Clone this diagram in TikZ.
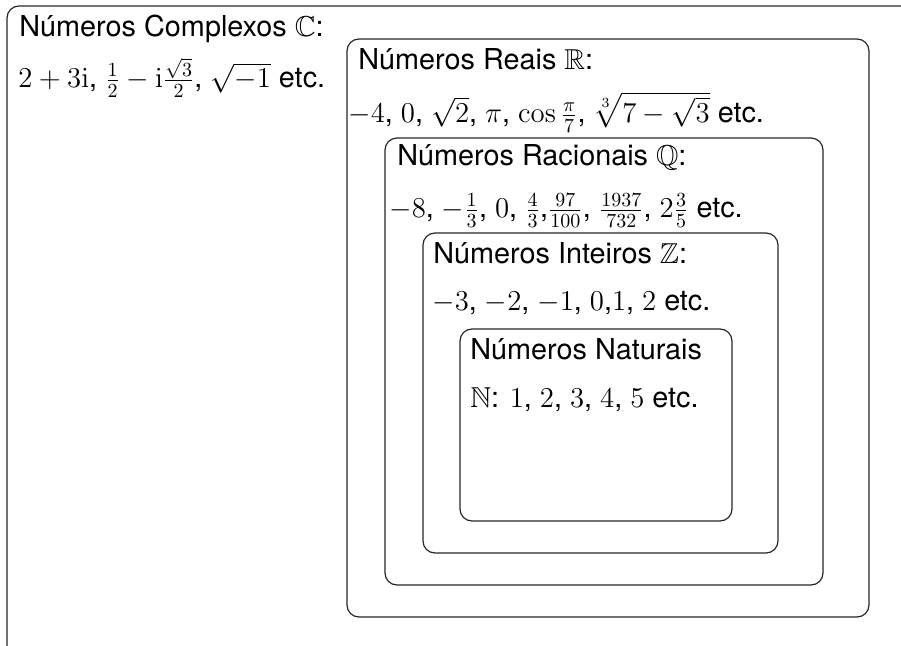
\documentclass[tikz,border=0pt]{standalone}
\usepackage{amsmath}
\usepackage{amssymb}
\usepackage[no-math]{fontspec}
\setmainfont{TeX Gyre Heros}
\begin{document}
\begin{tikzpicture}[x=0.5pt,y=-0.5pt,
  setbox/.style={draw=black!85,line width=0.6pt,rounded corners=6pt},
  label/.style={anchor=base west,inner sep=0pt,font=\fontsize{14.4}{17}\selectfont}]
\useasboundingbox (0,0) rectangle (901,646);
% nested sets, outermost first
\draw[setbox] (7,6) rectangle (930,670);
\draw[setbox] (347,39) rectangle (869,617);
\draw[setbox] (385,138) rectangle (823,585);
\draw[setbox] (423,233) rectangle (778,553);
\draw[setbox] (460,329) rectangle (732,521);
% complex numbers
\node[label] (c1) at (19,37) {Números Complexos $\mathbb{C}$:};
\node[label] (c2) at (18,88) {$2+3\mathrm{i}$, $\frac{1}{2}-\mathrm{i}\frac{\sqrt{3}}{2}$, $\sqrt{-1}$ etc.};
% real numbers
\node[label] (r1) at (358,70) {Números Reais $\mathbb{R}$:};
\node[label] (r2) at (348,123) {$-4$, $0$, $\sqrt{2}$, $\pi$, $\cos\frac{\pi}{7}$, $\sqrt[3]{7-\sqrt{3}}$ etc.};
% rational numbers
\node[label] (q1) at (397,166) {Números Racionais $\mathbb{Q}$:};
\node[label] (q2) at (389,218) {$-8$, $-\frac{1}{3}$, $0$, $\frac{4}{3}$,$\frac{97}{100}$, $\frac{1937}{732}$, $2\frac{3}{5}$ etc.};
% integers
\node[label] (z1) at (433,264) {Números Inteiros $\mathbb{Z}$:};
\node[label] (z2) at (432,311) {$-3$, $-2$, $-1$, $0$,$1$, $2$ etc.};
% natural numbers
\node[label] (n1) at (470,360) {Números Naturais};
\node[label] (n2) at (470,408) {$\mathbb{N}$: $1$, $2$, $3$, $4$, $5$ etc.};
\end{tikzpicture}
\end{document}
